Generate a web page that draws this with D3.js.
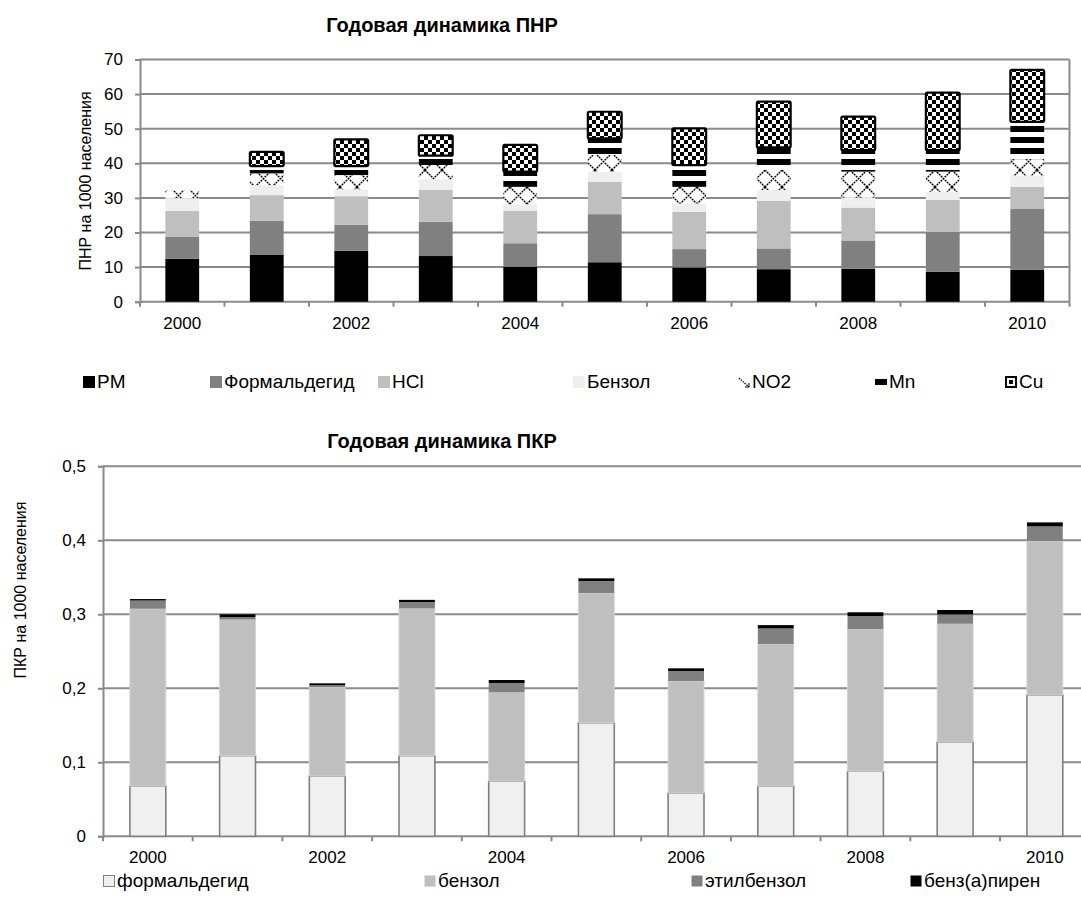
<!DOCTYPE html>
<html>
<head>
<meta charset="utf-8">
<script src="https://cdn.jsdelivr.net/npm/d3@7"></script>
<style>
  body { margin: 0; background: #fff; }
  svg { display: block; font-family: "Liberation Sans", Arial, sans-serif; }
</style>
</head>
<body>
<svg id="chart" width="1081" height="898"></svg>
<script>
// ---- data ----
const years = [2000, 2001, 2002, 2003, 2004, 2005, 2006, 2007, 2008, 2009, 2010];
const yearLabels = [2000, 2002, 2004, 2006, 2008, 2010];

// ПНР на 1000 населения, by pollutant
const pnrKeys = ["PM", "Формальдегид", "HCl", "Бензол", "NO2", "Mn", "Cu"];
const pnrPM = [12.4, 13.5, 14.7, 13.2, 10.1, 11.4, 9.9, 9.4, 9.5, 8.7, 9.2];
const pnrFormaldehyde = [6.3, 9.9, 7.5, 9.9, 6.8, 13.9, 5.3, 6.0, 8.2, 11.5, 17.6];
const pnrHCl = [7.5, 7.4, 8.3, 9.2, 9.4, 9.4, 10.8, 13.8, 9.5, 9.2, 6.4];
const pnrBenzene = [3.7, 2.9, 2.0, 3.1, 1.9, 2.9, 2.4, 3.1, 2.9, 2.4, 3.2];
const pnrNO2 = [2.2, 3.4, 4.1, 4.1, 5.0, 4.8, 4.8, 5.8, 7.5, 5.8, 4.8];
const pnrMn = [0, 2.1, 2.6, 2.7, 4.4, 4.8, 6.3, 6.5, 6.2, 6.2, 10.8];
const pnrCu = [0, 4.1, 7.7, 5.9, 7.7, 7.7, 10.6, 13.2, 9.7, 16.6, 15.0];
const pnrTicks = [0, 10, 20, 30, 40, 50, 60, 70];

// ПКР на 1000 населения, by pollutant
const pkrKeys = ["формальдегид", "бензол", "этилбензол", "бенз(а)пирен"];
const pkrFormaldehyde = [0.068, 0.109, 0.0815, 0.109, 0.0747, 0.1535, 0.0585, 0.068, 0.088, 0.1274, 0.191];
const pkrBenzene = [0.2396, 0.184, 0.1202, 0.199, 0.1199, 0.1753, 0.1514, 0.1919, 0.1921, 0.1599, 0.208];
const pkrEthylbenzene = [0.011, 0.003, 0.0025, 0.0085, 0.0126, 0.0162, 0.0135, 0.021, 0.0176, 0.0126, 0.0198];
const pkrBaP = [0.002, 0.004, 0.0025, 0.003, 0.004, 0.0036, 0.0036, 0.0045, 0.005, 0.0059, 0.0054];
const pkrTicks = [0, 0.1, 0.2, 0.3, 0.4, 0.5];

// ---- setup ----
const svg = d3.select("#chart");
const gridColor = "#8a8a8a";
const defs = svg.append("defs");

// diagonal cross lattice (NO2)
const pNO2 = defs.append("pattern").attr("id", "pNO2")
  .attr("patternUnits", "userSpaceOnUse").attr("width", 17).attr("height", 17);
pNO2.append("rect").attr("width", 17).attr("height", 17).attr("fill", "#fff");
pNO2.append("path").attr("d", "M0,0L17,17M17,0L0,17")
  .attr("stroke", "#000").attr("stroke-width", 1.4).attr("stroke-dasharray", "2,0.8");

// horizontal stripes (Mn)
const pMn = defs.append("pattern").attr("id", "pMn")
  .attr("patternUnits", "userSpaceOnUse").attr("width", 10).attr("height", 11);
pMn.append("rect").attr("width", 10).attr("height", 11).attr("fill", "#fff");
pMn.append("rect").attr("y", 5).attr("width", 10).attr("height", 6).attr("fill", "#000");

// checkerboard (Cu)
const pCu = defs.append("pattern").attr("id", "pCu")
  .attr("patternUnits", "userSpaceOnUse").attr("width", 8).attr("height", 8);
pCu.append("rect").attr("width", 8).attr("height", 8).attr("fill", "#fff");
pCu.append("rect").attr("width", 4).attr("height", 4).attr("fill", "#000");
pCu.append("rect").attr("x", 4).attr("y", 4).attr("width", 4).attr("height", 4).attr("fill", "#000");

function styleAxisText(sel, size) {
  sel.selectAll("text").attr("font-size", size).attr("fill", "#000")
    .attr("font-family", "'Liberation Sans', Arial, sans-serif");
}

function drawFrame(opt) {
  const { x, y, ticks, fmt, left, right, gridRight, bottom, top, border } = opt;
  const g = svg.append("g");
  // gridlines
  g.selectAll("line.grid").data(ticks.filter(t => t > 0)).join("line")
    .attr("x1", left).attr("x2", gridRight)
    .attr("y1", d => y(d)).attr("y2", d => y(d))
    .attr("stroke", gridColor).attr("stroke-width", 2);
  if (border) {
    g.append("line").attr("x1", right).attr("x2", right).attr("y1", top).attr("y2", bottom)
      .attr("stroke", gridColor).attr("stroke-width", 2);
  }
  // y axis
  const ya = svg.append("g").attr("transform", `translate(${left},0)`)
    .call(d3.axisLeft(y).tickValues(ticks).tickSize(5).tickPadding(12).tickFormat(fmt));
  ya.select(".domain").attr("stroke", gridColor).attr("stroke-width", 2);
  ya.selectAll(".tick line").attr("stroke", gridColor).attr("stroke-width", 2);
  styleAxisText(ya, 17);
  // x axis line and boundary ticks
  const xa = svg.append("g");
  xa.append("line").attr("x1", left).attr("x2", gridRight).attr("y1", bottom).attr("y2", bottom)
    .attr("stroke", gridColor).attr("stroke-width", 2);
  const step = x.step();
  const bounds = years.map(d => x(d) - step * x.paddingOuter()).concat([x(years[years.length - 1]) + x.bandwidth() + step * x.paddingOuter()]);
  xa.selectAll("line.tk").data(bounds).join("line")
    .attr("x1", d => d).attr("x2", d => d).attr("y1", bottom).attr("y2", bottom + 5)
    .attr("stroke", gridColor).attr("stroke-width", 2);
  xa.selectAll("text").data(yearLabels).join("text")
    .attr("x", d => x(d) + x.bandwidth() / 2).attr("y", bottom + 27)
    .attr("text-anchor", "middle").attr("font-size", 17).text(d => d);
}

// ---- chart 1: ПНР ----
{
  const left = 140, right = 1069.5, top = 59.5, bottom = 301.7;
  const x = d3.scaleBand().domain(years).range([left, right]).paddingInner(0.6).paddingOuter(0.3);
  const y = d3.scaleLinear().domain([0, 70]).range([bottom, top]);

  svg.append("text").attr("x", 442).attr("y", 32).attr("text-anchor", "middle")
    .attr("font-size", 20).attr("font-weight", "bold").text("Годовая динамика ПНР");

  drawFrame({ x, y, ticks: pnrTicks, fmt: d3.format("d"), left, right, gridRight: right, bottom, top, border: true });

  svg.append("text").attr("transform", "translate(91,181) rotate(-90)")
    .attr("text-anchor", "middle").attr("font-size", 16).text("ПНР на 1000 населения");

  const cols = [pnrPM, pnrFormaldehyde, pnrHCl, pnrBenzene, pnrNO2, pnrMn, pnrCu];
  const rows = years.map((yr, i) => {
    const r = { year: yr };
    pnrKeys.forEach((k, j) => r[k] = cols[j][i]);
    return r;
  });
  const fills = {
    "PM": "#000000", "Формальдегид": "#808080", "HCl": "#bfbfbf", "Бензол": "#efefef",
    "NO2": "url(#pNO2)", "Mn": "url(#pMn)", "Cu": "url(#pCu)"
  };
  const series = d3.stack().keys(pnrKeys)(rows);
  series.forEach(s => {
    svg.append("g").selectAll("rect").data(s.filter(d => d[1] - d[0] > 0)).join("rect")
      .attr("x", d => x(d.data.year)).attr("width", x.bandwidth())
      .attr("y", d => y(d[1])).attr("height", d => y(d[0]) - y(d[1]))
      .attr("fill", fills[s.key])
      .attr("stroke", s.key === "Cu" ? "#000" : "none")
      .attr("stroke-width", s.key === "Cu" ? 2.2 : 0)
      .attr("rx", s.key === "Cu" ? 1.5 : 0);
  });

  // legend
  const lx = [83, 210, 378, 573, 738, 875, 1005];
  const ly = 388;
  const lg = svg.append("g");
  pnrKeys.forEach((k, i) => {
    const gx = lx[i];
    if (k === "NO2") {
      lg.append("path").attr("d", `M${gx + 1},${ly - 10}L${gx + 11},${ly - 1}`)
        .attr("stroke", "#000").attr("stroke-width", 1.2).attr("stroke-dasharray", "1.5,1");
      lg.append("path").attr("d", `M${gx + 7},${ly - 1}L${gx + 11},${ly - 1}L${gx + 11},${ly - 5}`)
        .attr("stroke", "#000").attr("stroke-width", 1).attr("fill", "none");
    } else if (k === "Mn") {
      lg.append("rect").attr("x", gx).attr("y", ly - 9).attr("width", 12).attr("height", 6).attr("fill", "#000");
    } else if (k === "Cu") {
      lg.append("rect").attr("x", gx + 1).attr("y", ly - 11).attr("width", 10).attr("height", 10)
        .attr("fill", "#fff").attr("stroke", "#000").attr("stroke-width", 2);
      lg.append("rect").attr("x", gx + 4).attr("y", ly - 8).attr("width", 4).attr("height", 4).attr("fill", "#000");
    } else {
      lg.append("rect").attr("x", gx).attr("y", ly - 12).attr("width", 12).attr("height", 12).attr("fill", fills[k]);
    }
    lg.append("text").attr("x", gx + 14).attr("y", ly).attr("font-size", 19).text(k);
  });
}

// ---- chart 2: ПКР ----
{
  const left = 103, right = 1089.7, top = 466.3, bottom = 836.3;
  const x = d3.scaleBand().domain(years).range([left, right]).paddingInner(0.6).paddingOuter(0.3);
  const y = d3.scaleLinear().domain([0, 0.5]).range([bottom, top]);
  const fmt = d => d === 0 ? "0" : d3.format(".1f")(d).replace(".", ",");

  svg.append("text").attr("x", 442).attr("y", 448).attr("text-anchor", "middle")
    .attr("font-size", 20).attr("font-weight", "bold").text("Годовая динамика ПКР");

  drawFrame({ x, y, ticks: pkrTicks, fmt, left, right, gridRight: 1081, bottom, top, border: false });

  svg.append("text").attr("transform", "translate(26,590) rotate(-90)")
    .attr("text-anchor", "middle").attr("font-size", 16).text("ПКР на 1000 населения");

  const cols = [pkrFormaldehyde, pkrBenzene, pkrEthylbenzene, pkrBaP];
  const rows = years.map((yr, i) => {
    const r = { year: yr };
    pkrKeys.forEach((k, j) => r[k] = cols[j][i]);
    return r;
  });
  const fills = { "формальдегид": "#f0f0f0", "бензол": "#bfbfbf", "этилбензол": "#808080", "бенз(а)пирен": "#000000" };
  const strokes = { "формальдегид": "#808080", "бензол": "#d4d4d4", "этилбензол": "none", "бенз(а)пирен": "none" };
  const series = d3.stack().keys(pkrKeys)(rows);
  series.forEach(s => {
    svg.append("g").selectAll("rect").data(s).join("rect")
      .attr("x", d => x(d.data.year)).attr("width", x.bandwidth())
      .attr("y", d => y(d[1])).attr("height", d => y(d[0]) - y(d[1]))
      .attr("fill", fills[s.key])
      .attr("stroke", strokes[s.key])
      .attr("stroke-width", s.key === "формальдегид" ? 1.6 : 1);
  });

  // legend
  const lx = [103, 424, 691, 910];
  const ly = 887;
  const lg = svg.append("g");
  pkrKeys.forEach((k, i) => {
    const gx = lx[i];
    lg.append("rect").attr("x", gx + 0.5).attr("y", ly - 11.5).attr("width", 11).attr("height", 11)
      .attr("fill", fills[k]).attr("stroke", k === "формальдегид" ? "#808080" : "none").attr("stroke-width", 1);
    lg.append("text").attr("x", gx + 14).attr("y", ly).attr("font-size", 19).text(k);
  });
}
</script>
</body>
</html>
